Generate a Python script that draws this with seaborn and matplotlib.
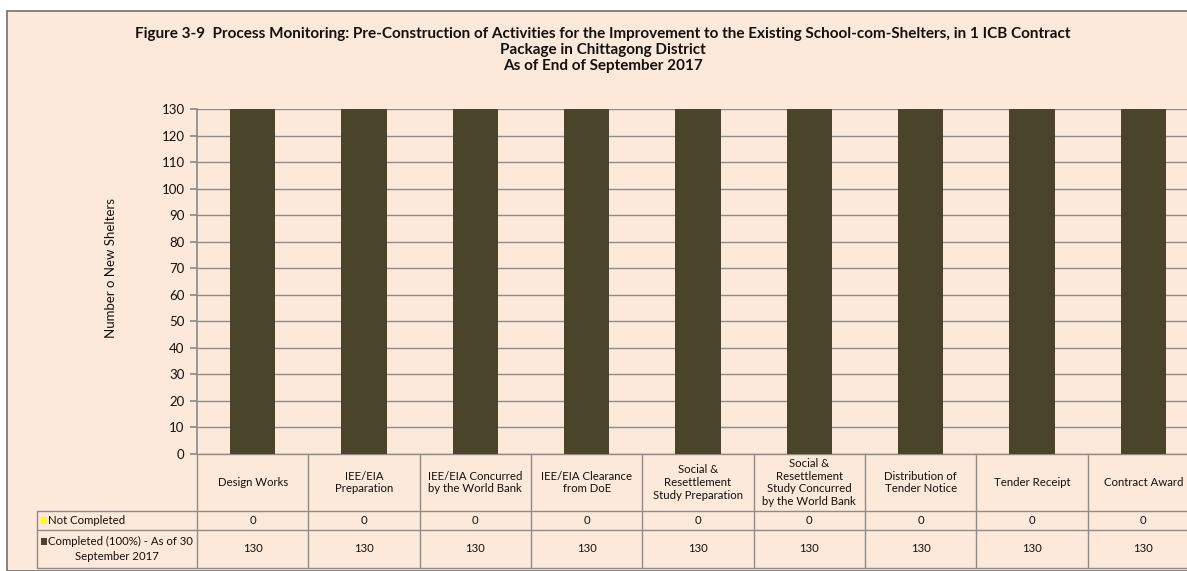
import numpy as np
import pandas as pd
import seaborn as sns
import matplotlib.pyplot as plt
import matplotlib.transforms as mtransforms
from matplotlib.patches import Rectangle

# data
categories = ["Design Works", "IEE/EIA\nPreparation", "IEE/EIA Concurred\nby the World Bank",
              "IEE/EIA Clearance\nfrom DoE", "Social &\nResettlement\nStudy Preparation",
              "Social &\nResettlement\nStudy Concurred\nby the World Bank",
              "Distribution of\nTender Notice", "Tender Receipt", "Contract Award"]
not_completed = [0, 0, 0, 0, 0, 0, 0, 0, 0]
completed = [130, 130, 130, 130, 130, 130, 130, 130, 130]
series_names = ["Not Completed", "Completed (100%) - As of 30\nSeptember 2017"]
title = ("Figure 3-9  Process Monitoring: Pre-Construction of Activities for the Improvement to the Existing School-com-Shelters, in 1 ICB Contract\n"
         "Package in Chittagong District\nAs of End of September 2017")
ylabel = "Number o New Shelters"

bg = "#FDE9D9"
bar_col = "#4A452A"
yellow = "#FFFF00"
line_col = "#8C8C8C"

sns.set_theme(style="white")
plt.rcParams['font.family'] = ['Lato', 'DejaVu Sans']
plt.rcParams['text.color'] = '#111111'
plt.rcParams['axes.labelcolor'] = '#111111'
plt.rcParams['ytick.color'] = '#111111'

W, H = 1187, 571
fig = plt.figure(figsize=(W / 100, H / 100), dpi=100)
fig.patch.set_facecolor("white")

def fx(px):
    return px / W

def fy(py):
    return 1 - py / H

# chart area background + border
fig.patches.append(Rectangle((fx(7), 0), 1.0, fy(11), transform=fig.transFigure,
                             facecolor=bg, edgecolor="#6F6F6F", linewidth=1.2, zorder=-5))

left_px, right_px, top_px, zero_px = 197, 1199, 109, 454
ax = fig.add_axes([fx(left_px), fy(zero_px), fx(right_px - left_px), (zero_px - top_px) / H])
ax.set_facecolor(bg)

df = pd.DataFrame({"cat": categories, "done": completed, "notdone": not_completed})
sns.barplot(data=df, x="cat", y="done", color=bar_col, width=0.41, saturation=1,
            linewidth=0, ax=ax, zorder=3)
sns.barplot(data=df, x="cat", y="notdone", color=yellow, width=0.41, saturation=1,
            bottom=df["done"], linewidth=0, ax=ax, zorder=3)

n = len(categories)
ax.set_xlim(-0.5, n - 0.5)
ax.set_ylim(0, 130)
ax.set_yticks(range(0, 131, 10))
ax.yaxis.grid(True, color=line_col, linewidth=1.0)
ax.set_axisbelow(True)
ax.set_xticks([])
ax.set_xlabel("")
ax.set_ylabel(ylabel, fontsize=9.5)
ax.yaxis.set_label_coords((117 - left_px) / (right_px - left_px), (zero_px - 268) / (zero_px - top_px))
ax.tick_params(axis="y", labelsize=9.5, length=5, color=line_col, left=True, pad=4)
for s in ["top", "right", "bottom"]:
    ax.spines[s].set_visible(False)
ax.spines["left"].set_color(line_col)

fig.text(fx(603), fy(27), title, ha="center", va="top", fontsize=11,
         fontweight="bold", linespacing=1.2)

# data table below axis
tr = mtransforms.blended_transform_factory(ax.transData, ax.transAxes)
ah = zero_px - top_px
r1 = -(511 - zero_px) / ah
r2 = -(530 - zero_px) / ah
r3 = -(568 - zero_px) / ah
x_left = -0.5 - (left_px - 37) / ((right_px - left_px) / n)
lk = dict(color=line_col, linewidth=1.0, transform=tr, clip_on=False)

ax.plot([-0.5, n - 0.5], [0, 0], **lk)
ax.plot([x_left, n - 0.5], [r1, r1], **lk)
ax.plot([x_left, n - 0.5], [r2, r2], **lk)
ax.plot([x_left, n - 0.5], [r3, r3], **lk)
ax.plot([x_left, x_left], [r1, r3], **lk)
for i in range(n + 1):
    ax.plot([i - 0.5, i - 0.5], [0, r3], **lk)

fs = 8.2
for i, cat in enumerate(categories):
    ax.text(i, r1 / 2, cat, ha="center", va="center", fontsize=fs, transform=tr,
            clip_on=False, linespacing=1.2)
    ax.text(i, (r1 + r2) / 2, str(not_completed[i]), ha="center", va="center",
            fontsize=fs, transform=tr, clip_on=False)
    ax.text(i, (r2 + r3) / 2, str(completed[i]), ha="center", va="center",
            fontsize=fs, transform=tr, clip_on=False)

# legend keys in row headers
fig.patches.append(Rectangle((fx(41), fy(524)), fx(6), 7 / H, transform=fig.transFigure,
                             facecolor=yellow, edgecolor="none"))
fig.text(fx(48), fy(520.5), series_names[0], ha="left", va="center", fontsize=fs)
line1, line2 = series_names[1].split("\n")
fig.patches.append(Rectangle((fx(41), fy(544.5)), fx(6), 7 / H, transform=fig.transFigure,
                             facecolor=bar_col, edgecolor="none"))
fig.text(fx(48), fy(541), line1, ha="left", va="center", fontsize=fs)
fig.text(fx(117), fy(556), line2, ha="center", va="center", fontsize=fs)

fig.savefig("out.png", dpi=100, facecolor=fig.get_facecolor())
